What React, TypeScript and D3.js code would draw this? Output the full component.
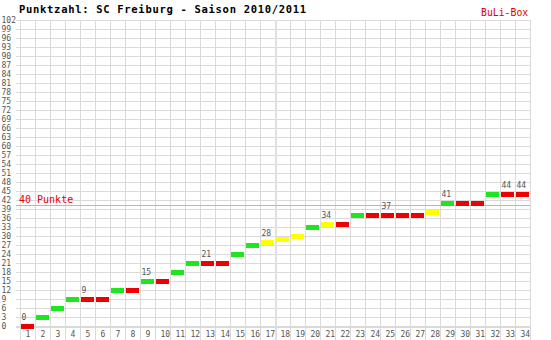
import React from "react";
import * as d3 from "d3";

const matchdays: number[] = d3.range(1, 35);
const points: number[] = [0, 3, 6, 9, 9, 9, 12, 12, 15, 15, 18, 21, 21, 21, 24, 27, 28, 29, 30, 33, 34, 34, 37, 37, 37, 37, 37, 38, 41, 41, 41, 44, 44, 44];
const results: string[] = ["L", "W", "W", "W", "L", "L", "W", "L", "W", "L", "W", "W", "L", "L", "W", "W", "D", "D", "D", "W", "D", "L", "W", "L", "L", "L", "L", "D", "W", "L", "L", "W", "L", "L"];
const yTicks: number[] = d3.range(0, 103, 3);
const labelledDays: number[] = [1, 5, 9, 13, 17, 21, 25, 29, 33, 34];
const title = "Punktzahl: SC Freiburg - Saison 2010/2011";
const brand = "BuLi-Box";
const markText = "40 Punkte";
const markValue = 40;

const colorOf: Record<string, string> = { W: "#1ee61e", L: "#ee0000", D: "#ffff00" };
const FONT = "'DejaVu Sans Mono', monospace";
const GRID = "#dadada";

export default function App() {
  const W = 551, H = 340;
  const x = d3.scaleBand<number>().domain(matchdays).range([20, 530]).padding(0);
  const y = d3.scaleLinear().domain([0, 102]).range([326, 20]);
  const bw = x.bandwidth();

  return (
    <svg width={W} height={H} style={{ position: "absolute", left: 0, top: 0, background: "#fff" }}>
      <rect x={0} y={0} width={W} height={H} fill="#fff" />
      {/* horizontal grid */}
      {yTicks.map((t) => (
        <line key={"h" + t} x1={16} x2={530} y1={t === 0 ? y(t) + 1 : y(t) + 0.5} y2={t === 0 ? y(t) + 1 : y(t) + 0.5}
          stroke={GRID} strokeWidth={t === 0 ? 2 : 1} />
      ))}
      {/* vertical grid */}
      {[...matchdays, 35].map((d) => {
        const xx = d === 35 ? 530 : (x(d) as number);
        const thick = d === 18;
        return (
          <line key={"v" + d} x1={thick ? xx + 1 : xx + 0.5} x2={thick ? xx + 1 : xx + 0.5} y1={20} y2={340}
            stroke={thick ? "#e0e0e0" : GRID} strokeWidth={thick ? 2 : 1} />
        );
      })}
      {/* y labels */}
      {yTicks.map((t) => (
        <text key={"yl" + t} x={1.5} y={y(t) + 2.5} fontFamily={FONT} fontSize={8} fill="#555">{t}</text>
      ))}
      {/* x labels */}
      {matchdays.map((d) => (
        <text key={"xl" + d} x={(x(d) as number) + 5.5} y={337} fontFamily={FONT} fontSize={8} fill="#555">{d}</text>
      ))}
      {/* 40 points line */}
      <line x1={16} x2={530} y1={y(markValue) - 0.5} y2={y(markValue) - 0.5} stroke="#ff9999" strokeWidth={1} />
      <text x={19} y={202.5} fontFamily={FONT} fontSize={10} fill="#e00000">{markText}</text>
      {/* bars */}
      {matchdays.map((d, i) => (
        <rect key={"b" + d} x={(x(d) as number) + 1} y={y(points[i]) - 2} width={bw - 2} height={5} fill={colorOf[results[i]]} />
      ))}
      {/* value labels */}
      {labelledDays.map((d) => (
        <text key={"vl" + d} x={(x(d) as number) + 1.5} y={y(points[d - 1]) - 6} fontFamily={FONT} fontSize={8} fill="#555">{points[d - 1]}</text>
      ))}
      {/* title */}
      <text x={19} y={13} fontFamily={FONT} fontSize={10.5} fontWeight="bold" letterSpacing={0.7} fill="#000">{title}</text>
      <text x={481} y={15.5} fontFamily={FONT} fontSize={9.8} fill="#e00000">{brand}</text>
    </svg>
  );
}
